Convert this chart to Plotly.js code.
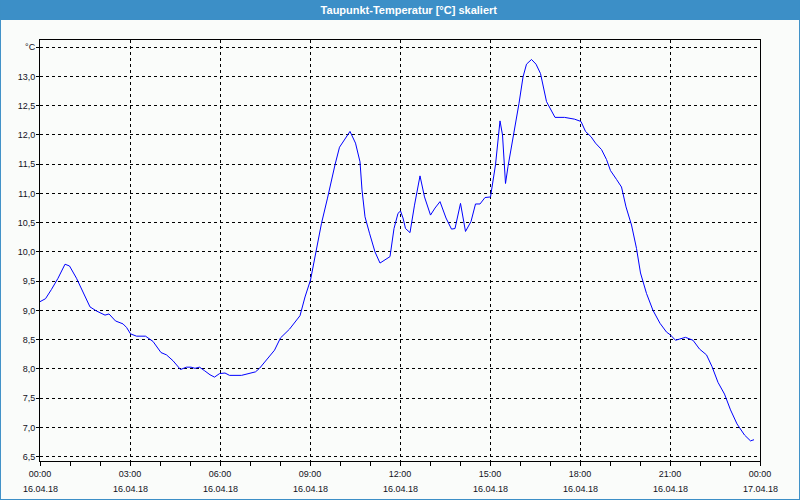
<!DOCTYPE html>
<html>
<head>
<meta charset="utf-8">
<script src="https://cdn.plot.ly/plotly-3.0.1.min.js"></script>
<style>
  body { margin: 0; background: #fafcfa; }
  #graphDiv { width: 800px; height: 500px; }
</style>
</head>
<body>
<div id="graphDiv"></div>
<script>
// readings of the day, clock time and dew point in °C
var day = '2018-04-16';
var times = [
  '00:00','00:11','00:23','00:36','00:50','00:59','01:13','01:26','01:40','01:53',
  '02:10','02:18','02:31','02:46','02:53','03:01','03:13','03:31','03:46','04:02',
  '04:13','04:26','04:41','04:53','05:02','05:10','05:19','05:29','05:40','05:49',
  '05:59','06:10','06:19','06:43','06:59','07:11','07:19','07:36','07:49','08:01',
  '08:19','08:40','08:50','09:01','09:11','09:23','09:35','09:43','09:50','09:59',
  '10:10','10:20','10:31','10:40','10:44','10:50','10:59','11:10','11:20','11:29',
  '11:40','11:48','11:56','12:01','12:06','12:11','12:20','12:29','12:40','12:49',
  '13:01','13:10','13:20','13:32','13:43','13:50','14:01','14:11','14:22','14:31',
  '14:40','14:50','15:01','15:11','15:20','15:25','15:31','15:36','15:48','15:58',
  '16:06','16:13','16:23','16:32','16:41','16:53','17:10','17:29','17:49','18:02',
  '18:11','18:22','18:31','18:43','18:53','19:01','19:13','19:23','19:32','19:43',
  '19:53','20:01','20:13','20:26','20:40','20:53','21:01','21:11','21:19','21:31',
  '21:46','21:59','22:13','22:24','22:36','22:49','23:01','23:14','23:29','23:41',
  '23:48'
];
var dewPoint = [
  9.15, 9.20, 9.36, 9.55, 9.79, 9.76, 9.55, 9.30, 9.06, 8.99,
  8.92, 8.94, 8.82, 8.77, 8.71, 8.60, 8.56, 8.56, 8.47, 8.28,
  8.24, 8.14, 7.99, 8.03, 8.03, 8.01, 8.03, 7.97, 7.90, 7.86,
  7.92, 7.93, 7.89, 7.89, 7.93, 7.95, 8.01, 8.18, 8.32, 8.53,
  8.68, 8.91, 9.23, 9.52, 9.98, 10.49, 10.92, 11.23, 11.49, 11.79,
  11.93, 12.06, 11.86, 11.54, 11.06, 10.60, 10.32, 10.00, 9.81, 9.86,
  9.92, 10.40, 10.66, 10.70, 10.58, 10.40, 10.33, 10.80, 11.30, 10.94,
  10.63, 10.75, 10.86, 10.58, 10.39, 10.40, 10.83, 10.35, 10.52, 10.82,
  10.82, 10.93, 10.94, 11.49, 12.24, 12.00, 11.17, 11.46, 12.03, 12.54,
  12.99, 13.21, 13.29, 13.21, 13.05, 12.57, 12.30, 12.30, 12.27, 12.23,
  12.06, 11.97, 11.86, 11.75, 11.58, 11.39, 11.24, 11.11, 10.77, 10.46,
  10.06, 9.64, 9.29, 9.00, 8.78, 8.63, 8.58, 8.49, 8.51, 8.54,
  8.49, 8.34, 8.24, 8.04, 7.77, 7.57, 7.30, 7.06, 6.87, 6.77,
  6.79
];

// axis labels
var xTickVals = ['2018-04-16 00:00','2018-04-16 03:00','2018-04-16 06:00','2018-04-16 09:00',
  '2018-04-16 12:00','2018-04-16 15:00','2018-04-16 18:00','2018-04-16 21:00','2018-04-17 00:00'];
var xTickTimes = ['00:00','03:00','06:00','09:00','12:00','15:00','18:00','21:00','00:00'];
var xTickDates = ['16.04.18','16.04.18','16.04.18','16.04.18','16.04.18','16.04.18','16.04.18','16.04.18','17.04.18'];
var yTickVals = [6.5, 7.0, 7.5, 8.0, 8.5, 9.0, 9.5, 10.0, 10.5, 11.0, 11.5, 12.0, 12.5, 13.0, 13.5];
var yTickText = ['6,5','7,0','7,5','8,0','8,5','9,0','9,5','10,0','10,5','11,0','11,5','12,0','12,5','13,0','°C'];

var blue = '#3c8fc7';
var labelFont = {family: 'Liberation Sans, Arial, sans-serif', size: 9, color: '#111122'};

var x = [];
for (var i = 0; i < times.length; i++) {
  x.push(day + ' ' + times[i]);
}

// hourly small ticks under the time axis
var hourTicks = [];
for (var h = 0; h <= 24; h++) {
  var d = new Date(Date.UTC(2018, 3, 16, h));
  hourTicks.push(d.toISOString().slice(0, 16).replace('T', ' '));
}

var dateLabels = [];
for (var k = 0; k < xTickVals.length; k++) {
  dateLabels.push({
    x: xTickVals[k], xref: 'x', y: 0, yref: 'paper', yshift: -28,
    yanchor: 'middle', xanchor: 'center', showarrow: false,
    text: xTickDates[k], font: labelFont
  });
}

var trace = {
  x: x,
  y: dewPoint,
  type: 'scatter',
  mode: 'lines',
  line: {color: '#0000ff', width: 1},
  hoverinfo: 'skip'
};

var layout = {
  width: 800,
  height: 500,
  margin: {l: 40, r: 40, t: 40, b: 39},
  paper_bgcolor: '#fafcfa',
  plot_bgcolor: '#fafcfa',
  showlegend: false,
  title: {
    text: 'Taupunkt-Temperatur [°C] skaliert',
    x: 0.511, xanchor: 'center',
    y: 0.98, yanchor: 'middle',
    font: {family: 'Liberation Sans, Arial, sans-serif', size: 11, color: '#ffffff', weight: 'bold'}
  },
  xaxis: {
    type: 'date',
    range: ['2018-04-16 00:00', '2018-04-17 00:00'],
    tickmode: 'array',
    tickvals: xTickVals,
    ticktext: xTickTimes,
    tickangle: 0,
    ticks: 'outside', ticklen: 4, tickcolor: '#000',
    tickfont: labelFont,
    showline: true, linecolor: '#000', linewidth: 1, mirror: true,
    showgrid: true, gridcolor: '#000', gridwidth: 1, griddash: '3px,3px',
    zeroline: false,
    minor: {tickmode: 'array', tickvals: hourTicks, ticks: 'outside', ticklen: 4, tickcolor: '#000', showgrid: false}
  },
  yaxis: {
    range: [6.426, 13.623],
    tickmode: 'array',
    tickvals: yTickVals,
    ticktext: yTickText,
    ticks: 'outside', ticklen: 3, tickcolor: '#000',
    tickfont: labelFont,
    ticklabelstandoff: -1,
    showline: true, linecolor: '#000', linewidth: 1, mirror: true,
    showgrid: true, gridcolor: '#000', gridwidth: 1, griddash: '3px,3px',
    zeroline: false
  },
  annotations: dateLabels,
  shapes: [
    // title bar
    {type: 'rect', xref: 'paper', yref: 'paper', x0: -0.06, x1: 1.06, y0: 1.0475, y1: 1.1,
     fillcolor: blue, line: {width: 0}, layer: 'below'},
    // window frame
    {type: 'rect', xref: 'paper', yref: 'paper', x0: -0.0556, x1: 1.0556, y0: -0.0926, y1: 1.095,
     fillcolor: 'rgba(0,0,0,0)', line: {color: blue, width: 2}, layer: 'below'}
  ]
};

Plotly.newPlot('graphDiv', [trace], layout, {staticPlot: true});
</script>
</body>
</html>
